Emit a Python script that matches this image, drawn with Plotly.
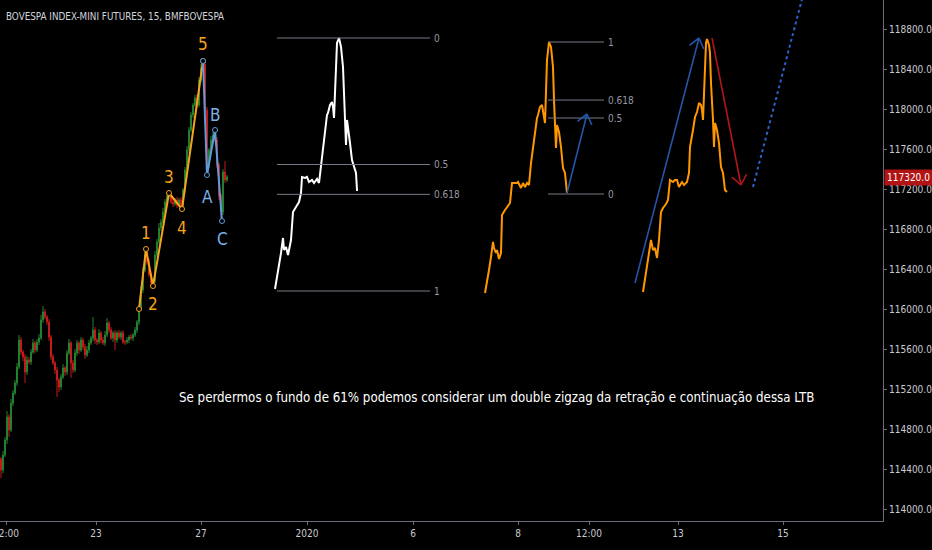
import math
import plotly.graph_objects as go

# --- candles (15 min) ---------------------------------------------------
first_open = 114500
closes = [
    114390, 114540, 114690, 114920, 114790, 115060, 115160, 115260, 115420, 115690,
    115570, 115520, 115370, 115490, 115470, 115570, 115660, 115590, 115670, 115710,
    115890, 115970, 115920, 115870, 115720, 115520, 115460, 115390, 115290, 115220,
    115320, 115410, 115370, 115560, 115660, 115460, 115390, 115560, 115660, 115590,
    115690, 115620, 115540, 115590, 115660, 115710, 115790, 115690, 115670, 115760,
    115690, 115660, 115740, 115860, 115790, 115710, 115760, 115690, 115760, 115720,
    115760, 115670, 115670, 115690, 115720, 115710, 115740, 115790, 115870, 116000,
    116190, 116390, 116540, 116470, 116340, 116260, 116280, 116540, 116670, 116810,
    116870, 116970, 117070, 117130, 117130, 117070, 117050, 117090, 117040, 117090,
    117040, 117190, 117390, 117590, 117790, 117940, 118040, 118110, 118040, 118290,
    118410, 118450, 117990, 117440, 117590, 117690, 117740, 117690, 117440, 117130,
    116970, 117370, 117290, 117320,
]
upper_wick = [
    20, 40, 30, 60, 30, 40, 30, 30, 40, 50,
    30, 20, 30, 40, 30, 30, 40, 20, 30, 40,
    50, 60, 30, 20, 30, 20, 30, 20, 30, 20,
    30, 40, 20, 30, 40, 20, 30, 40, 30, 20,
    30, 20, 30, 40, 30, 20, 130, 30, 20, 40,
    20, 30, 40, 50, 20, 30, 20, 30, 20, 30,
    20, 30, 20, 30, 20, 30, 20, 30, 20, 30,
    40, 30, 60, 20, 30, 20, 30, 40, 30, 50,
    30, 40, 30, 20, 30, 20, 30, 20, 30, 20,
    30, 20, 30, 40, 30, 30, 20, 30, 40, 30,
    40, 30, 20, 30, 20, 40, 30, 50, 30, 20,
    30, 30, 110, 20,
]
lower_wick = [
    80, 30, 20, 40, 70, 20, 30, 20, 30, 20,
    30, 40, 110, 30, 20, 30, 20, 30, 20, 30,
    20, 30, 20, 30, 40, 30, 20, 40, 170, 50,
    30, 20, 40, 30, 20, 150, 30, 20, 30, 40,
    20, 30, 40, 20, 30, 20, 30, 40, 30, 20,
    30, 20, 30, 20, 30, 20, 40, 100, 30, 20,
    30, 20, 30, 20, 30, 20, 30, 20, 30, 30,
    20, 30, 20, 30, 20, 30, 30, 20, 30, 20,
    30, 20, 30, 20, 30, 20, 30, 20, 30, 20,
    40, 20, 30, 20, 30, 20, 30, 20, 30, 20,
    20, 30, 40, 100, 30, 20, 30, 20, 30, 40,
    90, 30, 30, 20,
]
last_price = 117320

# --- elliott count ------------------------------------------------------
impulse_x = [69, 72.5, 76, 84, 90.5, 101]
impulse_y = [116000, 116600, 116230, 117160, 117000, 118480]
impulse_lbl = ["", "1", "2", "3", "4", "5"]
correction_x = [101, 103, 107, 110.5]
correction_y = [118480, 117340, 117790, 116880]
correction_lbl = ["", "A", "B", "C"]

# --- projected drawings -------------------------------------------------
white_x = [137, 138.5, 140, 141, 141.5, 142.5, 143.5, 145, 146, 147.5, 149, 150, 150.5,
           152, 153, 154, 155.5, 156.5, 158, 159, 160, 161, 162, 163, 163.5, 164.5,
           165.5, 166, 166.5, 167.5, 168, 169, 170, 171, 171.5, 172, 172.5, 173,
           173.5, 174.5, 175.5, 176.5, 177.5, 178, 178.5]
white_y = [116200, 116360, 116560, 116710, 116590, 116620, 116540, 116690, 116970,
           117020, 117070, 117160, 117320, 117310, 117320, 117270, 117290, 117260,
           117300, 117260, 117420, 117620, 117790, 117940, 117960, 118040, 118070,
           118020, 117910, 118490, 118660, 118710, 118620, 118420, 118160, 117890,
           117640, 117890, 117790, 117660, 117490, 117420, 117360, 117190, 117190]

orange1_x = [242, 243, 244, 245, 246, 246.5, 247.5, 248, 249, 250, 250.5, 252, 253,
             254.5, 255.5, 256.5, 258, 258.5, 260, 261, 262, 263, 264, 265, 266, 267,
             268, 268.5, 269.5, 270.5, 271, 272, 273, 274, 275, 276, 276.5, 277,
             277.5, 278, 279, 280, 281, 282, 283]
orange1_y = [116160, 116260, 116390, 116520, 116670, 116610, 116560, 116590, 116500,
             116560, 116940, 116990, 117020, 117060, 117260, 117260, 117260, 117270,
             117210, 117260, 117220, 117260, 117240, 117460, 117620, 117760, 117910,
             117940, 118020, 118040, 117970, 117860, 118490, 118670, 118620, 118420,
             118090, 117820, 117610, 117840, 117770, 117620, 117410, 117360, 117160]

orange2_x = [321, 322, 323, 324, 325, 326, 327, 328, 329, 330, 331, 332.5, 333.5, 334.5,
             336, 337, 338, 339, 340.5, 341.5, 343, 344, 344.5, 346, 347, 348, 349,
             350, 350.5, 351, 352, 352.5, 353, 354, 354.5, 355, 356, 356.5, 357, 358,
             359, 360, 361, 362, 363]
orange2_y = [116170, 116290, 116420, 116540, 116690, 116590, 116610, 116510, 116690,
             116970, 117010, 117050, 117090, 117290, 117270, 117290, 117290, 117220,
             117270, 117240, 117270, 117360, 117620, 117790, 117920, 117970, 118060,
             118040, 117990, 117890, 118460, 118660, 118700, 118640, 118560, 118260,
             117890, 117620, 117860, 117790, 117660, 117420, 117360, 117190, 117170]

# fib retracements: (x start, x end, price at level 0, price at level 1, levels)
fib_white = (138, 214.5, 118710, 116180, [0, 0.5, 0.618, 1])
fib_orange = (273.5, 301.5, 117150, 118670, [0, 0.5, 0.618, 1])

# arrows: start x, start price, end x, end price
arrow_blue_small = (283, 117160, 293, 117950)
arrow_blue_big = (317, 116260, 349, 118710)
arrow_red = (355.5, 118710, 370, 117240)
dotted_x = [376, 403]
dotted_y = [117220, 119290]

# axis ticks
time_ticks = [2.5, 47.5, 100, 153, 206, 258.5, 294, 338.5, 391]
time_labels = ["12:00", "23", "27", "2020", "6", "8", "12:00", "13", "15"]
price_ticks = list(range(114000, 118801, 400))

note = ("Se perdermos o fundo de 61% podemos considerar um double zigzag "
        "da retração e continuação dessa LTB")
title = "BOVESPA INDEX-MINI FUTURES, 15, BMFBOVESPA"

X_RANGE = [-0.5, 441]
Y_RANGE = [113880, 119090]
W, H = 932, 550
M_R, M_B = 49, 29
FONT = "DejaVu Sans Condensed, Liberation Sans Narrow, sans-serif"
GRAY = "#787b86"
ORANGE_W = "#f7a21b"
BLUE_W = "#5d9bdc"

opens = [first_open] + closes[:-1]
highs = [max(o, c) + w for o, c, w in zip(opens, closes, upper_wick)]
lows = [min(o, c) - w for o, c, w in zip(opens, closes, lower_wick)]

fig = go.Figure()
fig.add_trace(go.Candlestick(
    x=list(range(len(closes))), open=opens, high=highs, low=lows, close=closes,
    increasing=dict(line=dict(color="#22812e", width=1), fillcolor="#22812e"),
    decreasing=dict(line=dict(color="#c41a1a", width=1), fillcolor="#c41a1a"),
    whiskerwidth=0, hoverinfo="skip"))

# wave count
fig.add_trace(go.Scatter(x=impulse_x, y=impulse_y, mode="lines+markers",
                         line=dict(color=ORANGE_W, width=2),
                         marker=dict(symbol="circle", size=5, color="black",
                                     line=dict(color=ORANGE_W, width=1))))
fig.add_trace(go.Scatter(x=correction_x, y=correction_y, mode="lines+markers",
                         line=dict(color=BLUE_W, width=2),
                         marker=dict(symbol="circle", size=5, color="black",
                                     line=dict(color=BLUE_W, width=1))))

annotations = []
shift_imp = [0, 16, -18, 16, -19, 17]
for x, y, t, s in zip(impulse_x, impulse_y, impulse_lbl, shift_imp):
    if t:
        annotations.append(dict(x=x, y=y, text=t, showarrow=False, yshift=s,
                                font=dict(color=ORANGE_W, size=17, family=FONT)))
shift_cor = [0, -22, 15, -18]
for x, y, t, s in zip(correction_x, correction_y, correction_lbl, shift_cor):
    if t:
        annotations.append(dict(x=x, y=y, text=t, showarrow=False, yshift=s,
                                font=dict(color="#7cb1e8", size=17, family=FONT)))

# projections
fig.add_trace(go.Scatter(x=white_x, y=white_y, mode="lines",
                         line=dict(color="white", width=2)))
fig.add_trace(go.Scatter(x=orange1_x, y=orange1_y, mode="lines",
                         line=dict(color="#ff9800", width=2)))
fig.add_trace(go.Scatter(x=orange2_x, y=orange2_y, mode="lines",
                         line=dict(color="#ff9800", width=2)))

for xa, xb, p0, p1, levels in [fib_white, fib_orange]:
    for lv in levels:
        p = p0 + lv * (p1 - p0)
        fig.add_trace(go.Scatter(x=[xa, xb], y=[p, p], mode="lines",
                                 line=dict(color=GRAY, width=1)))
        annotations.append(dict(x=xb, y=p, text=str(lv), showarrow=False,
                                xanchor="left", xshift=2,
                                font=dict(color="#9598a1", size=10, family=FONT)))

# arrows with open heads
xs = (W - M_R) / (X_RANGE[1] - X_RANGE[0])
ys = (H - M_B) / (Y_RANGE[1] - Y_RANGE[0])


def arrow(x0, y0, x1, y1, color, length=12, ang=38):
    dx, dy = (x1 - x0) * xs, (y1 - y0) * ys
    n = math.hypot(dx, dy)
    bx, by = -dx / n, -dy / n
    px, py = [x0, x1], [y0, y1]
    for a in (ang, -ang):
        r = math.radians(a)
        wx = bx * math.cos(r) - by * math.sin(r)
        wy = bx * math.sin(r) + by * math.cos(r)
        px += [None, x1, x1 + wx * length / xs]
        py += [None, y1, y1 + wy * length / ys]
    fig.add_trace(go.Scatter(x=px, y=py, mode="lines",
                             line=dict(color=color, width=1.6)))


arrow(*arrow_blue_small, "#2356a8")
arrow(*arrow_blue_big, "#2356a8")
arrow(*arrow_red, "#b3151a")
fig.add_trace(go.Scatter(x=dotted_x, y=dotted_y, mode="lines",
                         line=dict(color="#2b62c8", width=2, dash="dot")))

annotations.append(dict(x=247.5, y=115120, text=note, showarrow=False,
                        font=dict(color="white", size=13.2, family=FONT)))
annotations.append(dict(xref="paper", yref="paper", x=0, y=1, xshift=4, yshift=-9,
                        xanchor="left", yanchor="top", text=title, showarrow=False,
                        font=dict(color="#d1d4dc", size=9.8, family=FONT)))
annotations.append(dict(xref="paper", x=1, y=last_price, xanchor="left",
                        text="%.1f" % last_price, showarrow=False,
                        bgcolor="#b01414", borderpad=2, xshift=1,
                        font=dict(color="white", size=10, family=FONT)))

fig.update_layout(
    width=W, height=H,
    margin=dict(l=0, r=M_R, t=0, b=M_B),
    paper_bgcolor="black", plot_bgcolor="black",
    showlegend=False,
    annotations=annotations,
    xaxis=dict(range=X_RANGE, rangeslider=dict(visible=False), showgrid=False,
               zeroline=False, showline=True, linecolor="#6a6d78", linewidth=1,
               tickvals=time_ticks, ticktext=time_labels, ticks="outside",
               ticklen=3, tickcolor="#6a6d78", ticklabeloverflow="allow",
               automargin=False,
               tickfont=dict(color="#c8cad0", size=10, family=FONT)),
    yaxis=dict(range=Y_RANGE, side="right", showgrid=False, zeroline=False,
               showline=True, linecolor="#6a6d78", linewidth=1,
               tickvals=price_ticks, tickformat=".1f", ticks="outside",
               ticklen=3, tickcolor="#6a6d78", ticklabeloverflow="allow",
               automargin=False,
               tickfont=dict(color="#c8cad0", size=10, family=FONT)),
)

fig.write_html("out.html", config={"displayModeBar": False},
               post_script="document.body.style.margin='0';"
                           "document.body.style.overflow='hidden';")
